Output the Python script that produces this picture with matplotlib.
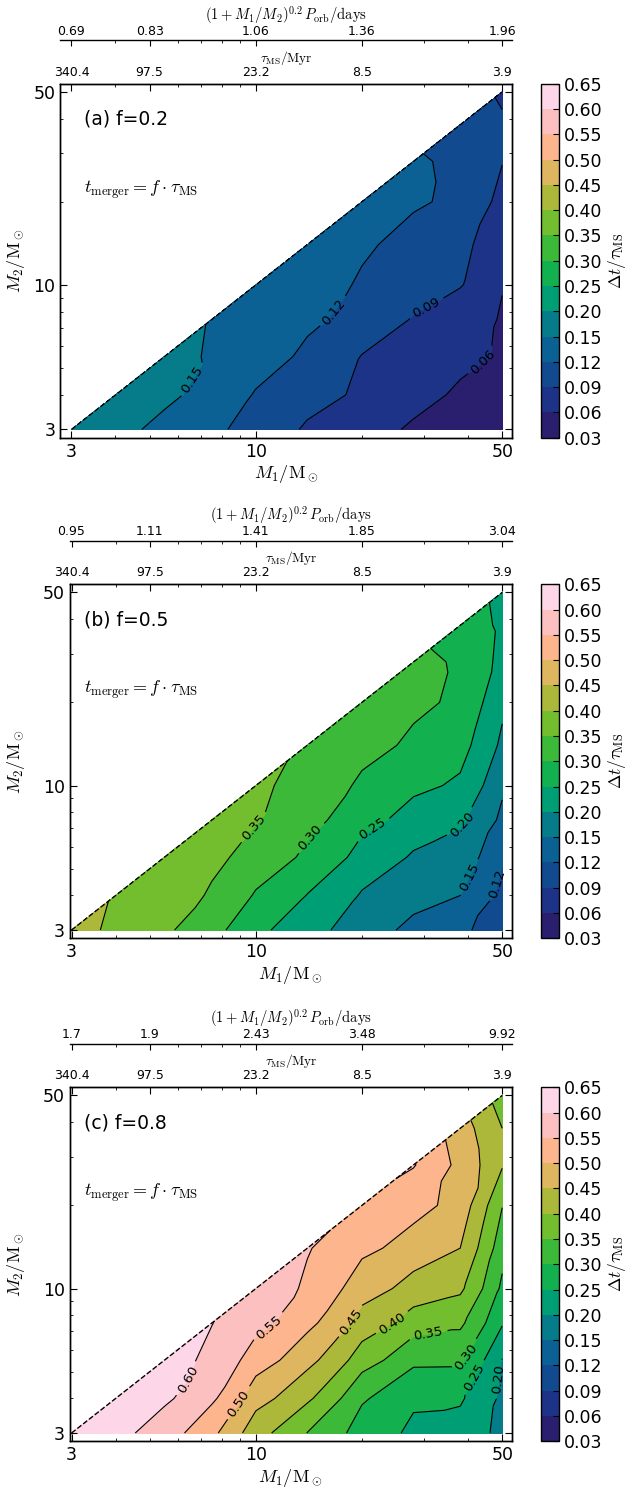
import numpy as np
import matplotlib
matplotlib.use("Agg")
import matplotlib.pyplot as plt
import matplotlib.tri as mtri
import matplotlib.transforms as mtransforms
from matplotlib.ticker import FixedLocator, FixedFormatter, LogLocator, NullFormatter

plt.rcParams['mathtext.fontset'] = 'cm'
plt.rcParams['font.family'] = ['DejaVu Sans']

# mass grid (Msun), used for both M1 and M2
masses = [3, 4, 5.5, 7.5, 10, 14, 20, 28, 38, 50]

# Delta t / tau_MS ; row k -> M2 = masses[k], entries -> M1 = masses[k:]
dt_a = [
    [0.170, 0.158, 0.142, 0.126, 0.108, 0.086, 0.068, 0.057, 0.050, 0.045],
    [0.163, 0.157, 0.137, 0.118, 0.102, 0.084, 0.068, 0.056, 0.048],
    [0.156, 0.148, 0.133, 0.114, 0.089, 0.078, 0.067, 0.057],
    [0.149, 0.139, 0.126, 0.108, 0.088, 0.072, 0.058],
    [0.144, 0.131, 0.117, 0.104, 0.092, 0.061],
    [0.137, 0.124, 0.110, 0.097, 0.072],
    [0.130, 0.124, 0.113, 0.081],
    [0.123, 0.115, 0.091],
    [0.107, 0.093],
    [0.086],
]
dt_b = [
    [0.418, 0.389, 0.358, 0.316, 0.261, 0.219, 0.170, 0.138, 0.125, 0.105],
    [0.396, 0.372, 0.345, 0.295, 0.2485, 0.1955, 0.167, 0.150, 0.112],
    [0.383, 0.360, 0.333, 0.289, 0.233, 0.194, 0.169, 0.123],
    [0.370, 0.353, 0.317, 0.265, 0.232, 0.210, 0.139],
    [0.358, 0.333, 0.291, 0.260, 0.243, 0.159],
    [0.344, 0.318, 0.290, 0.268, 0.190],
    [0.327, 0.312, 0.289, 0.212],
    [0.310, 0.295, 0.235],
    [0.280, 0.240],
    [0.235],
]
dt_c = [
    [0.640, 0.615, 0.574, 0.512, 0.419, 0.349, 0.277, 0.240, 0.232, 0.185],
    [0.630, 0.609, 0.559, 0.470, 0.409, 0.306, 0.258, 0.256, 0.190],
    [0.617, 0.590, 0.525, 0.466, 0.374, 0.311, 0.310, 0.198],
    [0.601, 0.567, 0.5135, 0.430, 0.376, 0.360, 0.255],
    [0.578, 0.543, 0.472, 0.432, 0.410, 0.290],
    [0.553, 0.512, 0.479, 0.450, 0.320],
    [0.545, 0.519, 0.479, 0.352],
    [0.553, 0.485, 0.405],
    [0.472, 0.400],
    [0.375],
]

levels = [0.03, 0.06, 0.09, 0.12, 0.15, 0.20, 0.25, 0.30, 0.35,
          0.40, 0.45, 0.50, 0.55, 0.60, 0.65]
colors = ['#2a1e6e', '#1d3387', '#124a90', '#0b6094', '#067b8a', '#009e74',
          '#12b04f', '#3cb939', '#72be2e', '#abb83a', '#deb660', '#fcb58c',
          '#fcc0c0', '#fdd6e8']

f_values = ['0.2', '0.5', '0.8']
tags = ['(a)', '(b)', '(c)']
top_masses = [3, 5, 10, 20, 50]
tau_labels = ['340.4', '97.5', '23.2', '8.5', '3.9']
porb_labels = [
    ['0.69', '0.83', '1.06', '1.36', '1.96'],
    ['0.95', '1.11', '1.41', '1.85', '3.04'],
    ['1.7', '1.9', '2.43', '3.48', '9.92'],
]
# where the inline contour labels sit (M1, M2)
label_spots = [
    [(45.5, 5.0), (30.2, 8.4), (16.8, 7.9), (6.7, 4.5)],
    [(49.2, 4.4), (44.2, 4.4), (39.7, 7.0), (20.8, 7.4), (14.7, 6.25), (9.9, 7.0)],
    [(49.2, 4.7), (42.5, 4.7), (40.1, 5.6), (30.6, 7.1), (24.0, 7.7),
     (18.3, 7.7), (8.8, 3.9), (11.0, 7.1), (6.7, 4.5)],
]

# panel boxes in pixels: left, bottom(from top), width, height
W, H = 632, 1490
boxes = [(60.3, 437.7, 451.4, 354), (70, 938.3, 441.7, 354), (70, 1441.3, 441.7, 354)]
xlims = [(2.79, 53.2), (2.97, 53.2), (2.97, 53.2)]
ylim = (2.8, 53.5)

# triangulate the lower triangle (M2 <= M1) of the grid
n = len(masses)
node = {}
m1_pts, m2_pts = [], []
for j in range(n):
    for i in range(j, n):
        node[(i, j)] = len(m1_pts)
        m1_pts.append(masses[i])
        m2_pts.append(masses[j])
tris = []
for j in range(n - 1):
    for i in range(j, n - 1):
        tris.append([node[(i, j)], node[(i + 1, j)], node[(i + 1, j + 1)]])
        if i > j:
            tris.append([node[(i, j)], node[(i + 1, j + 1)], node[(i, j + 1)]])
tri = mtri.Triangulation(m1_pts, m2_pts, tris)

fig = plt.figure(figsize=(W / 100, H / 100), dpi=100)

for k, dt in enumerate([dt_a, dt_b, dt_c]):
    left, bot, w, h = boxes[k]
    rect = [left / W, 1 - bot / H, w / W, h / H]
    ax = fig.add_axes(rect)
    z = [v for row in dt for v in row]

    ax.set_xscale('log')
    ax.set_yscale('log')
    ax.set_xlim(xlims[k])
    ax.set_ylim(ylim)

    cf = ax.tricontourf(tri, z, levels=levels, colors=colors)
    cs = ax.tricontour(tri, z, levels=levels, colors='k', linewidths=0.8)
    ax.plot([3, 50], [3, 50], color='k', ls='--', lw=1.0)
    ax.clabel(cs, manual=label_spots[k], inline=True, fontsize=9.5, fmt='%.2f')

    for axis in (ax.xaxis, ax.yaxis):
        axis.set_major_locator(FixedLocator([3, 10, 50]))
        axis.set_major_formatter(FixedFormatter(['3', '10', '50']))
        axis.set_minor_locator(LogLocator(base=10, subs=np.arange(2, 10)))
        axis.set_minor_formatter(NullFormatter())
    ax.tick_params(which='both', direction='in', right=True, top=False, labelsize=12.5)
    ax.tick_params(which='major', length=5)
    ax.tick_params(which='minor', length=2.5)
    for s in ax.spines.values():
        s.set_linewidth(1.0)

    ax.set_xlabel(r'$M_1/\mathrm{M}_\odot$', fontsize=13, labelpad=2)
    ax.set_ylabel(r'$M_2/\mathrm{M}_\odot$', fontsize=13)
    blend = mtransforms.blended_transform_factory(fig.transFigure, ax.transAxes)
    ax.yaxis.set_label_coords(27 / W, 0.5, transform=blend)

    ax.text(3.25, 39.8, '%s f=%s' % (tags[k], f_values[k]), fontsize=13.5, va='center')
    ax.text(3.25, 22.2, r'$t_{\rm merger} = f \cdot \tau_{\rm MS}$', fontsize=13, va='center')

    # tau_MS axis on top
    axt = ax.twiny()
    axt.set_xscale('log')
    axt.set_xlim(xlims[k])
    axt.xaxis.set_major_locator(FixedLocator(top_masses))
    axt.xaxis.set_major_formatter(FixedFormatter(tau_labels))
    axt.xaxis.set_minor_locator(LogLocator(base=10, subs=np.arange(2, 10)))
    axt.xaxis.set_minor_formatter(NullFormatter())
    axt.tick_params(which='both', direction='in', labelsize=9)
    axt.tick_params(which='major', length=5)
    axt.tick_params(which='minor', length=2.5)
    axt.set_xlabel(r'$\tau_{\rm MS}/{\rm Myr}$', fontsize=9.5, labelpad=3)
    for s in axt.spines.values():
        s.set_linewidth(1.0)

    # orbital period axis, further up
    axp = ax.twiny()
    axp.set_xscale('log')
    axp.set_xlim(xlims[k])
    axp.spines['top'].set_position(('axes', 1 + 43.8 / h))
    for s in ['bottom', 'left', 'right']:
        axp.spines[s].set_visible(False)
    axp.spines['top'].set_linewidth(1.0)
    axp.xaxis.set_major_locator(FixedLocator(top_masses))
    axp.xaxis.set_major_formatter(FixedFormatter(porb_labels[k]))
    axp.xaxis.set_minor_locator(LogLocator(base=10, subs=np.arange(2, 10)))
    axp.xaxis.set_minor_formatter(NullFormatter())
    axp.tick_params(which='both', direction='in', labelsize=9, pad=1.5)
    axp.tick_params(which='major', length=4)
    axp.tick_params(which='minor', length=2.5)
    axp.set_xlabel(r'$(1+M_1/M_2)^{0.2}\,P_{\rm orb}/{\rm days}$', fontsize=10.5, labelpad=4)

    # colorbar
    cax = fig.add_axes([540.7 / W, 1 - bot / H, 18 / W, h / H])
    cb = fig.colorbar(cf, cax=cax, ticks=levels)
    cb.ax.set_yticklabels(['%.2f' % v for v in levels])
    cb.ax.tick_params(labelsize=12.5, direction='in', length=4)
    cb.outline.set_linewidth(1.0)
    cb.set_label(r'$\Delta t/\tau_{\rm MS}$', fontsize=12.5, labelpad=3)

fig.savefig('out.png', dpi=100)
